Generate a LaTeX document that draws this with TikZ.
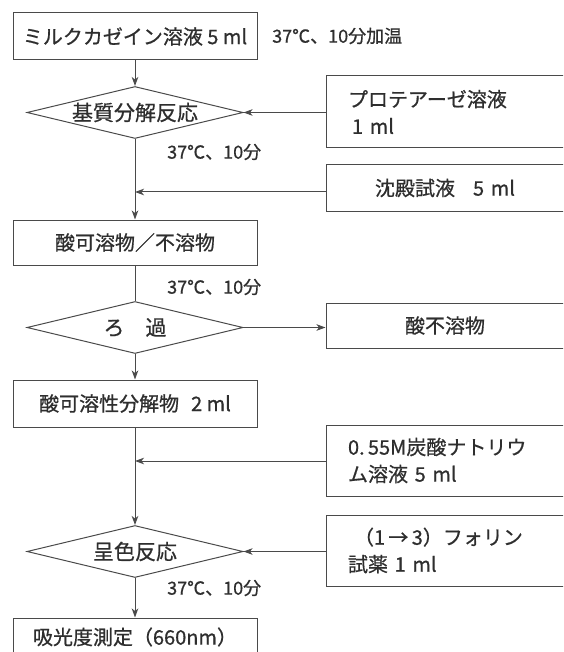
\documentclass[tikz,border=0pt]{standalone}
\usepackage{fontspec}
\setmainfont{Noto Sans CJK JP}[FakeBold=0.7]
\usetikzlibrary{shapes.geometric,arrows.meta}
\definecolor{ln}{HTML}{4A4A4A}
\definecolor{tx}{HTML}{2E2E2E}
\begin{document}
\begin{tikzpicture}[x=1pt,y=-1pt,
  box/.style={draw=ln, line width=1pt, rectangle, minimum width=244pt, minimum height=47pt, inner sep=0pt, text=tx, font=\fontsize{20}{24}\selectfont},
  dia/.style={draw=ln, line width=1pt, diamond, aspect=4.2, minimum width=216pt, minimum height=52pt, inner sep=0pt, text=tx, font=\fontsize{21}{24}\selectfont},
  rbox/.style={draw=ln, line width=1pt, rectangle, text width=220pt, inner xsep=22pt, inner ysep=0pt, align=left, text=tx, font=\fontsize{20}{27}\selectfont, minimum height=46pt},
  lbl/.style={text=tx, font=\fontsize{18}{20}\selectfont, anchor=west, inner sep=0pt},
  arr/.style={draw=ln, line width=1pt, -{Stealth[length=9pt,width=6.5pt,inset=2.5pt]}},
  lin/.style={draw=ln, line width=1pt}]
\useasboundingbox (0,0) rectangle (563,652);
\clip (0,0) rectangle (563,652);
% main column
\node[box] (b1) at (135,36.5) {ミルクカゼイン溶液 5 ml};
\node[dia] (d1) at (135,112.5) {基質分解反応};
\node[box, minimum height=45pt] (b2) at (135,242.5) {酸可溶物／不溶物};
\node[dia] (d2) at (135,327.5) {ろ　過};
\node[box] (b3) at (135,403.5) {酸可溶性分解物\hspace{12pt}2 ml};
\node[dia] (d3) at (135,551.5) {呈色反応};
\node[box, minimum height=50pt] (b4) at (135,643) {};
\node[text=tx, font=\fontsize{20}{24}\selectfont, inner sep=0pt] (b4t) at (135,637) {吸光度測定（660nm）};
% junctions
\coordinate (j1) at (135,192);
\coordinate (j2) at (135,461);
% right column
\node[rbox, minimum height=72pt] (r1) at (458,112) {プロテアーゼ溶液\\\hspace*{4pt}1 ml};
\node[rbox] (r2) at (458,188) {\hspace*{27pt}沈殿試液\hspace{18pt}5 ml};
\node[rbox, minimum height=45pt] (r3) at (458,325.5) {\hspace*{57pt}酸不溶物};
\node[rbox, minimum height=71pt] (r4) at (458,460.5) {0.\,55M炭酸ナトリウ\\ム溶液 5 ml};
\node[rbox, minimum height=71pt] (r5) at (458,550.5) {\hspace*{6pt}（1\,→\,3）フォリン\\試薬 1 ml};
% labels
\node[lbl] (l0) at (272,36) {37℃、10分加温};
\node[lbl] (l1) at (167,152) {37℃、10分};
\node[lbl] (l2) at (167,287) {37℃、10分};
\node[lbl] (l3) at (167,588) {37℃、10分};
% connectors
\draw[arr] (b1.south) -- (d1.north);
\draw[arr] (r1.west |- d1.east) -- (d1.east);
\draw[lin] (d1.south) -- (j1);
\draw[arr] (j1 -| r2.west) -- (j1);
\draw[arr] (j1) -- (b2.north);
\draw[lin] (b2.south) -- (d2.north);
\draw[arr] (d2.east) -- (d2.east -| r3.west);
\draw[arr] (d2.south) -- (b3.north);
\draw[lin] (b3.south) -- (j2);
\draw[arr] (j2 -| r4.west) -- (j2);
\draw[arr] (j2) -- (d3.north);
\draw[arr] (r5.west |- d3.east) -- (d3.east);
\draw[arr] (d3.south) -- (b4.north);
\end{tikzpicture}
\end{document}
